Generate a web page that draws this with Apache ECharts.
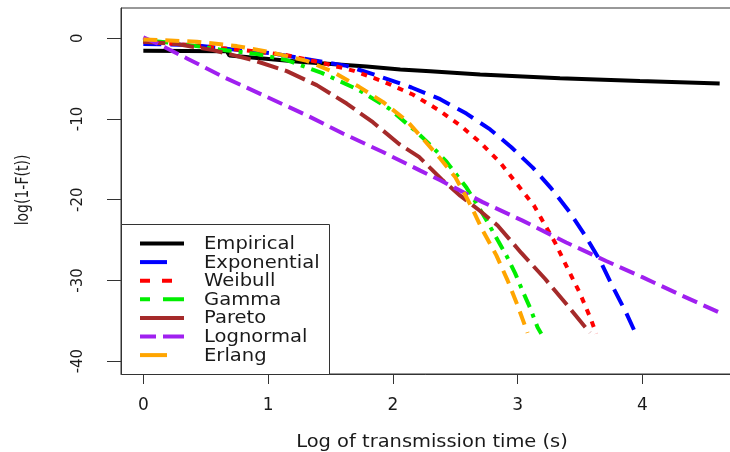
<!DOCTYPE html>
<html>
<head>
<meta charset="utf-8">
<script src="https://cdn.jsdelivr.net/npm/echarts@6/dist/echarts.min.js"></script>
<style>
    html, body { margin: 0; padding: 0; background: #fff; }
    #chart { width: 730px; height: 452px; }
</style>
</head>
<body>
<div id="chart"></div>
<script>
// 图例名称 / series names
const seriesNames = ["Empirical", "Exponential", "Weibull", "Gamma", "Pareto", "Lognormal", "Erlang"];

// 刻度 / tick values
const xTicks = [0, 1, 2, 3, 4];
const yTicks = [0, -10, -20, -30, -40];

// 各曲线读数 (x = log time, y = log(1-F(t)))
const empiricalX = [0, 0.67, 0.69, 1.25, 1.79, 2.06, 2.30, 2.70, 3.34, 3.98, 4.62];
const empiricalY = [-1.55, -1.6, -2.15, -2.9, -3.5, -3.86, -4.1, -4.5, -4.95, -5.3, -5.6];

const exponentialX = [0, 0.41, 0.77, 1.04, 1.36, 1.63, 1.89, 2.15, 2.38, 2.59, 2.78, 2.95, 3.12, 3.27, 3.42, 3.54, 3.66, 3.76, 3.87, 3.95];
const exponentialY = [-0.7, -0.84, -1.47, -1.88, -2.71, -3.42, -4.70, -6.10, -7.55, -9.33, -11.3, -13.5, -16.0, -18.6, -21.6, -24.4, -27.5, -30.7, -34.0, -36.7];

const weibullX = [0, 0.37, 0.85, 1.15, 1.43, 1.69, 1.93, 2.16, 2.36, 2.54, 2.70, 2.86, 2.99, 3.13, 3.30, 3.40, 3.50, 3.59, 3.63];
const weibullY = [-0.4, -0.84, -1.55, -2.09, -3.04, -4.04, -5.40, -6.97, -8.83, -10.8, -12.9, -15.4, -17.95, -20.7, -25.3, -28.5, -31.6, -34.9, -36.6];

const gammaX = [0, 0.27, 0.61, 0.91, 1.15, 1.43, 1.72, 1.97, 2.19, 2.32, 2.43, 2.59, 2.68, 2.76, 2.84, 2.91, 2.98, 3.04, 3.10, 3.16, 3.19];
const gammaY = [-0.22, -0.63, -1.38, -1.96, -2.71, -4.29, -6.35, -8.71, -11.6, -13.5, -15.3, -18.5, -20.7, -22.8, -25.0, -26.9, -29.1, -31.3, -33.4, -35.8, -36.6];

const paretoX = [0, 0.27, 0.56, 0.88, 1.15, 1.39, 1.63, 1.84, 2.05, 2.21, 2.40, 2.54, 2.70, 2.84, 3.03, 3.22, 3.40, 3.58];
const paretoY = [-0.43, -0.72, -1.47, -2.71, -4.07, -5.81, -8.09, -10.4, -13.1, -14.7, -17.6, -19.5, -21.4, -23.2, -26.6, -29.8, -33.1, -36.5];

const lognormalX = [0, 0.11, 0.35, 0.64, 0.99, 1.31, 1.60, 1.92, 2.22, 2.38, 2.72, 3.04, 3.39, 3.71, 4.00, 4.32, 4.62];
const lognormalY = [0.1, -0.63, -2.50, -4.78, -7.27, -9.54, -11.8, -14.1, -16.4, -17.6, -20.3, -22.6, -25.3, -27.6, -29.6, -31.9, -34.0];

const erlangX = [0, 0.43, 0.75, 1.04, 1.31, 1.52, 1.73, 1.92, 2.11, 2.25, 2.38, 2.50, 2.59, 2.63, 2.72, 2.83, 2.92, 3.00, 3.08];
const erlangY = [-0.14, -0.43, -0.97, -1.80, -2.80, -4.16, -6.02, -7.89, -10.2, -12.6, -14.9, -17.2, -19.7, -20.9, -23.8, -26.9, -30.0, -33.1, -36.5];

const xs = [empiricalX, exponentialX, weibullX, gammaX, paretoX, lognormalX, erlangX];
const ys = [empiricalY, exponentialY, weibullY, gammaY, paretoY, lognormalY, erlangY];
const colors = ["#000000", "#0000ff", "#ff0000", "#00ee00", "#a52a2a", "#a020f0", "#ffa500"];
// 曲线虚线样式
const dashes = ["solid", [18, 9], [6, 7], [4, 7, 14, 7], [22, 7], [16, 7], [14, 8]];
// 图例里的虚线样式 (图例线段较短，显示不同)
const legendDashes = [null, [27, 20], [10, 12], [10, 13, 21, 13], null, [16, 7, 21, 7], [27, 20]];

const font = "DejaVu Sans";
const textColor = "#1a1a1a";

const myChart = echarts.init(document.getElementById("chart"));

// 图例：外框 + 线段 + 文字
const legendTop = 243.5;
const legendStep = 18.6;
const legendItems = [];
seriesNames.forEach((name, i) => {
    const yc = legendTop + legendStep * i;
    legendItems.push({
        type: "line",
        z: 4,
        shape: { x1: 140, y1: yc, x2: 184, y2: yc },
        style: { stroke: colors[i], lineWidth: 4, lineDash: legendDashes[i] },
    });
    legendItems.push({
        type: "text",
        z: 4,
        x: 204,
        y: yc + 1,
        scaleX: 1.15,
        style: {
            text: name,
            fontFamily: font,
            fontSize: 17,
            fill: textColor,
            verticalAlign: "middle",
        },
    });
});

myChart.setOption({
    animation: false,
    grid: {
        left: 121,
        right: -13,
        top: 8,
        bottom: 78,
        outerBoundsMode: "none",
        show: true,
        borderColor: "#333",
        borderWidth: 1,
    },
    xAxis: {
        type: "value",
        min: -0.179,
        max: 4.807,
        axisLine: { show: true, onZero: false, lineStyle: { color: "#333" } },
        axisTick: { show: true, length: 10, customValues: xTicks, lineStyle: { color: "#333" } },
        axisLabel: {
            customValues: xTicks,
            margin: 23,
            fontFamily: font,
            fontSize: 17,
            color: textColor,
        },
        splitLine: { show: false },
    },
    yAxis: {
        type: "value",
        min: -41.6,
        max: 3.75,
        axisLine: { show: true, onZero: false, lineStyle: { color: "#333" } },
        axisTick: { show: true, length: 14, customValues: yTicks, lineStyle: { color: "#333" } },
        axisLabel: {
            customValues: yTicks,
            rotate: 90,
            margin: 35,
            fontFamily: font,
            fontSize: 15,
            color: textColor,
        },
        splitLine: { show: false },
    },
    graphic: [
        {
            type: "rect",
            left: 121,
            top: 224,
            z: 3,
            shape: { width: 208, height: 150 },
            style: { fill: "#fff", stroke: "#333", lineWidth: 1 },
        },
        // x 轴标题
        {
            type: "text",
            x: 432,
            y: 442,
            scaleX: 1.08,
            style: {
                text: "Log of transmission time (s)",
                fontFamily: font,
                fontSize: 18,
                fill: textColor,
                align: "center",
                verticalAlign: "middle",
            },
        },
        // y 轴标题 (旋转, 横向拉宽)
        {
            type: "text",
            x: 23,
            y: 190,
            rotation: Math.PI / 2,
            scaleY: 1.25,
            style: {
                text: "log(1-F(t))",
                fontFamily: font,
                fontSize: 14,
                fill: textColor,
                align: "center",
                verticalAlign: "middle",
            },
        },
        ...legendItems,
    ],
    series: seriesNames.map((name, i) => ({
        name: name,
        type: "line",
        symbol: "none",
        smooth: false,
        data: xs[i].map((x, j) => [x, ys[i][j]]),
        lineStyle: { color: colors[i], width: 4, type: dashes[i] },
        itemStyle: { color: colors[i] },
    })),
});
</script>
</body>
</html>
